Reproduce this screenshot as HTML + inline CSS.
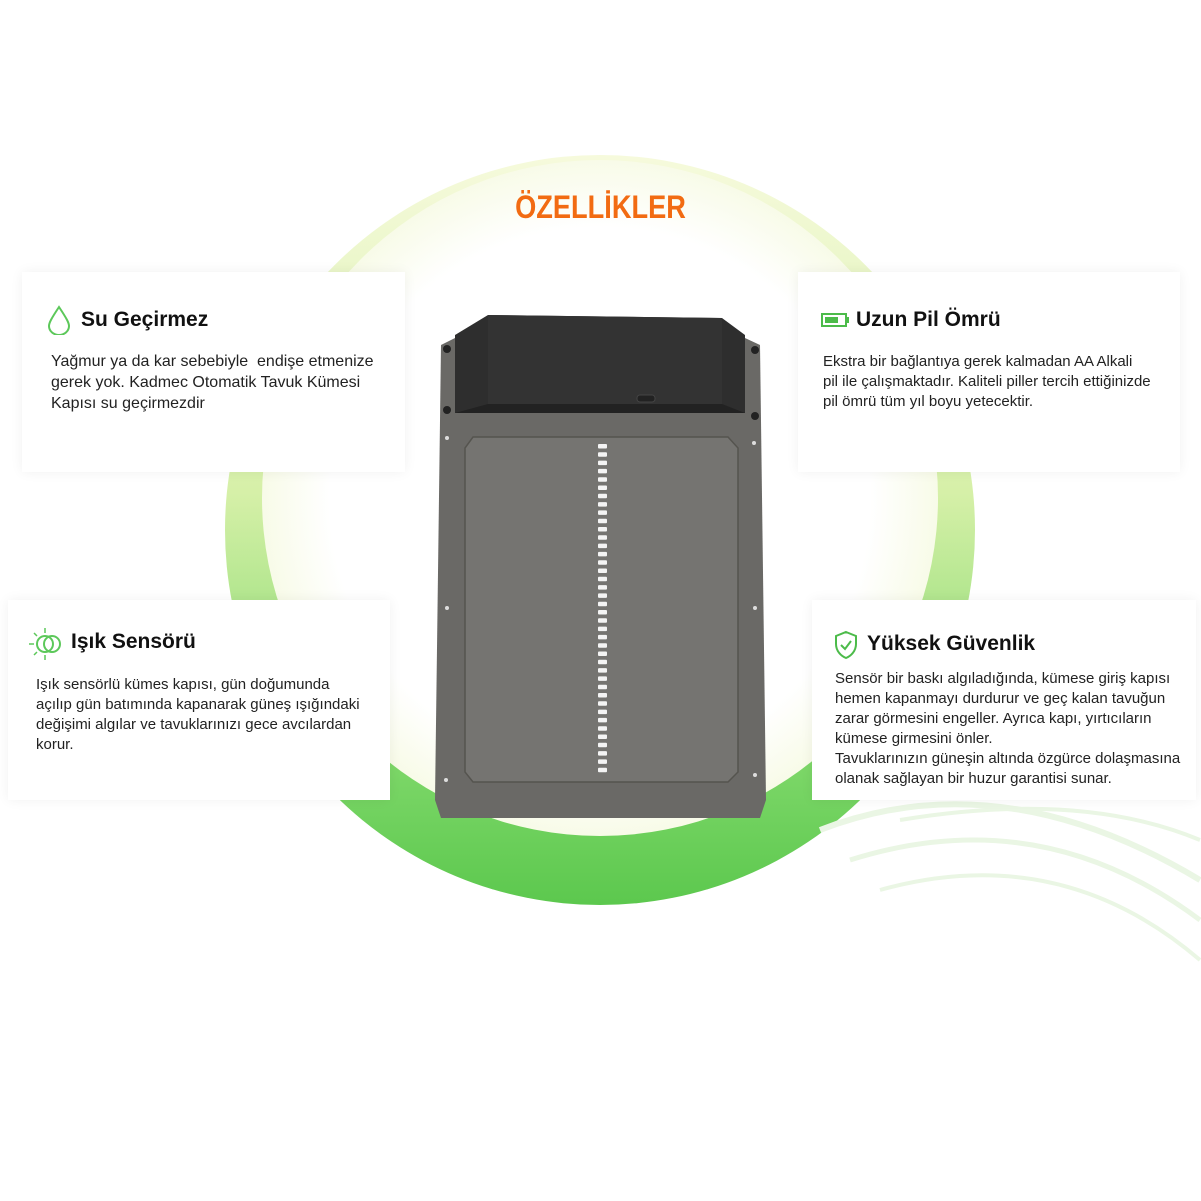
<!DOCTYPE html>
<html><head><meta charset="utf-8"><style>
body{margin:0;width:1201px;height:1201px;background:#fff;position:relative;overflow:hidden;font-family:"Liberation Sans",sans-serif}
.card{position:absolute;background:#fff;box-shadow:0 0 12px rgba(0,0,0,0.06);color:#222}
.card h3{position:absolute;margin:0;font-size:21px;font-weight:bold;color:#111}
.card p{position:absolute;margin:0;font-size:15px;line-height:20px;color:#222}
</style></head><body>
<svg width="1201" height="1201" style="position:absolute;left:0;top:0">
<defs>
<linearGradient id="g" x1="0" y1="0" x2="0" y2="1">
<stop offset="0" stop-color="#f6fadc"/><stop offset="0.45" stop-color="#d6f0a8"/><stop offset="0.8" stop-color="#7fd86a"/><stop offset="1" stop-color="#5cc84e"/></linearGradient>
<radialGradient id="w" cx="0.5" cy="0.5" r="0.5"><stop offset="0.8" stop-color="#fff"/><stop offset="1" stop-color="#f8fbe8"/></radialGradient>
</defs>
<circle cx="600" cy="530" r="375" fill="url(#g)"/>
<circle cx="600" cy="498" r="338" fill="url(#w)"/>
<g fill="none" stroke="#eaf6e4">
<path d="M820 830 Q1000 760 1200 880" stroke-width="6"/>
<path d="M850 860 Q1040 800 1200 920" stroke-width="5"/>
<path d="M880 890 Q1060 840 1200 960" stroke-width="4"/>
<path d="M900 820 Q1080 790 1200 840" stroke-width="4"/>
</g>
<!-- door -->
<path d="M441 345 L455 338 L745 338 L760 345 L766 800 L760 818 L441 818 L435 800 Z" fill="#6a6966"/>
<path d="M473 437 L728 437 L738 448 L738 772 L728 782 L473 782 L465 772 L465 448 Z" fill="#757471" stroke="#55544f" stroke-width="1.5"/>
<path d="M455 335 L488 315 L722 318 L745 335 L745 413 L455 413 Z" fill="#2e2e2e"/>
<path d="M488 315 L722 318 L722 408 L488 408 Z" fill="#333"/>
<path d="M455 413 L488 404 L722 404 L745 413 Z" fill="#222"/>
<rect x="637" y="395" width="18" height="7" rx="3" fill="#222" stroke="#444"/>
<g fill="#222"><circle cx="447" cy="349" r="4"/><circle cx="447" cy="410" r="4"/><circle cx="755" cy="350" r="4"/><circle cx="755" cy="416" r="4"/></g>
<g fill="#ddd"><circle cx="447" cy="438" r="2"/><circle cx="754" cy="443" r="2"/><circle cx="447" cy="608" r="2"/><circle cx="755" cy="608" r="2"/><circle cx="446" cy="780" r="2"/><circle cx="755" cy="775" r="2"/></g>
<g fill="#f4f4f4" id="leds"></g>
</svg>
<script>
var g=document.getElementById('leds'),s='';
for(var y=444;y<768;y+=8.3){s+='<rect x="598" y="'+y.toFixed(1)+'" width="9" height="4.5" rx="1"/>';}
g.innerHTML=s;
</script>
<div style="position:absolute;left:0;width:1201px;top:189px;text-align:center;font-size:32px;font-weight:bold;color:#f26b12;transform:scaleX(0.85)">ÖZELLİKLER</div>

<div class="card" style="left:22px;top:272px;width:383px;height:200px">
<svg style="position:absolute;left:25px;top:33px" width="24" height="30"><path d="M12 2 C4 14 2 18 2 21 a10 9 0 0 0 20 0 C22 18 20 14 12 2Z" fill="none" stroke="#5cc85a" stroke-width="2"/></svg>
<h3 style="left:59px;top:36px">Su Geçirmez</h3>
<p style="left:29px;top:79px;font-size:16px;line-height:21px">Yağmur ya da kar sebebiyle&nbsp; endişe etmenize<br>gerek yok. Kadmec Otomatik Tavuk Kümesi<br>Kapısı su geçirmezdir</p></div>

<div class="card" style="left:798px;top:272px;width:382px;height:200px">
<svg style="position:absolute;left:23px;top:40px" width="30" height="16"><rect x="1" y="2" width="24" height="12" fill="none" stroke="#4cbb4a" stroke-width="2"/><rect x="25" y="5" width="3" height="6" fill="#4cbb4a"/><rect x="4" y="5" width="13" height="6" fill="#4cbb4a"/></svg>
<h3 style="left:58px;top:36px">Uzun Pil Ömrü</h3>
<p style="left:25px;top:80px">Ekstra bir bağlantıya gerek kalmadan AA Alkali<br>pil ile çalışmaktadır. Kaliteli piller tercih ettiğinizde<br>pil ömrü tüm yıl boyu yetecektir.</p></div>

<div class="card" style="left:8px;top:600px;width:382px;height:200px">
<svg style="position:absolute;left:18px;top:26px" width="40" height="36"><circle cx="19" cy="18" r="8" fill="none" stroke="#5cc85a" stroke-width="2"/><circle cx="26" cy="18" r="8" fill="none" stroke="#5cc85a" stroke-width="2"/><g stroke="#5cc85a" stroke-width="1.5"><line x1="3" y1="18" x2="8" y2="18"/><line x1="19" y1="2" x2="19" y2="7"/><line x1="19" y1="29" x2="19" y2="34"/><line x1="8" y1="7" x2="11" y2="10"/><line x1="8" y1="29" x2="11" y2="26"/></g></svg>
<h3 style="left:63px;top:30px">Işık Sensörü</h3>
<p style="left:28px;top:75px">Işık sensörlü kümes kapısı, gün doğumunda<br>açılıp gün batımında kapanarak güneş ışığındaki<br>değişimi algılar ve tavuklarınızı gece avcılardan<br>korur.</p></div>

<div class="card" style="left:812px;top:600px;width:384px;height:200px">
<svg style="position:absolute;left:22px;top:30px" width="24" height="30"><path d="M12 2 L22 6 L22 14 C22 21 17 26 12 28 C7 26 2 21 2 14 L2 6 Z" fill="none" stroke="#4cbb4a" stroke-width="2"/><path d="M7 15 L11 19 L17 11" fill="none" stroke="#4cbb4a" stroke-width="2"/></svg>
<h3 style="left:55px;top:32px">Yüksek Güvenlik</h3>
<p style="left:23px;top:69px">Sensör bir baskı algıladığında, kümese giriş kapısı<br>hemen kapanmayı durdurur ve geç kalan tavuğun<br>zarar görmesini engeller. Ayrıca kapı, yırtıcıların<br>kümese girmesini önler.<br>Tavuklarınızın güneşin altında özgürce dolaşmasına<br>olanak sağlayan bir huzur garantisi sunar.</p></div>
</body></html>
